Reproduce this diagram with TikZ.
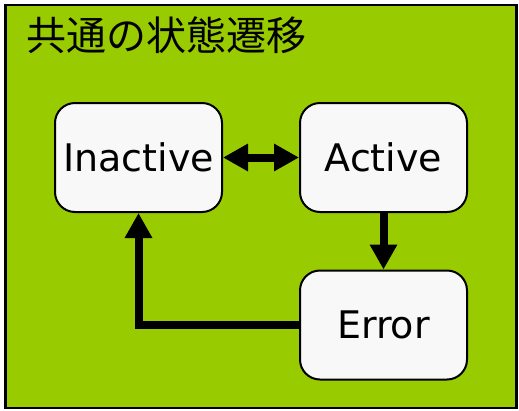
\documentclass[tikz,border=0pt]{standalone}
\usepackage{fontspec}
\setmainfont{DejaVu Sans}
\newfontfamily\cjk{Noto Sans CJK JP}
\usetikzlibrary{arrows.meta}
\definecolor{bggreen}{HTML}{99CC00}
\definecolor{boxfill}{HTML}{F8F8F8}
\begin{document}
\begin{tikzpicture}[x=1pt,y=-1pt,
  state/.style={draw=black, line width=2pt, fill=boxfill, rounded corners=20pt,
    minimum width=167pt, minimum height=109pt, inner sep=0pt,
    font=\fontsize{38}{42}\selectfont},
  conn/.style={line width=8pt, -{Triangle[length=25pt,width=26pt]}},
  dconn/.style={line width=8pt, {Triangle[length=25pt,width=26pt]}-{Triangle[length=25pt,width=26pt]}}]
\useasboundingbox (0,0) rectangle (519,410);
\fill[white] (0,0) rectangle (519,410);
\node[draw=black, line width=2.5pt, fill=bggreen, minimum width=511pt, minimum height=403pt, inner sep=0pt] (frame) at (261,206.5) {};
\node[anchor=west, inner sep=0pt, font=\cjk\fontsize{40}{44}\selectfont] (title) at (26,35) {共通の状態遷移};
\node[state] (inactive) at (138.5,157.5) {Inactive};
\node[state] (active) at (383.5,157.5) {Active};
\node[state] (error) at (383.5,325) {Error};
\draw[dconn] (inactive.east) -- (active.west);
\draw[conn] (active.south) -- (error.north);
\draw[conn] (error.west) -| (inactive.south);
\end{tikzpicture}
\end{document}
